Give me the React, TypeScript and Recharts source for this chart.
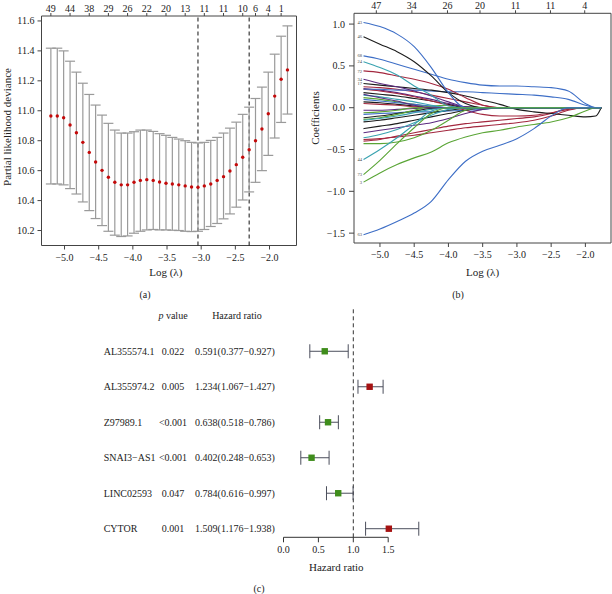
import React from "react";
import {
  ScatterChart, Scatter, LineChart, Line, XAxis, YAxis, ErrorBar,
  ReferenceLine, ReferenceArea, ReferenceDot,
} from "recharts";

const FONT = '"Liberation Serif", "DejaVu Serif", serif';
const AX = "#444";
const TXT = "#222";

// ---------- (a) cross-validated partial likelihood deviance ----------
const cvLogLambda = [
  -5.200, -5.106, -5.013, -4.919, -4.826, -4.732, -4.638, -4.545, -4.451, -4.358,
  -4.264, -4.170, -4.077, -3.983, -3.890, -3.796, -3.702, -3.609, -3.515, -3.422,
  -3.328, -3.234, -3.141, -3.047, -2.954, -2.860, -2.766, -2.673, -2.579, -2.486,
  -2.392, -2.298, -2.205, -2.111, -2.018, -1.924, -1.830, -1.737,
];
const cvMean = [
  10.965, 10.965, 10.953, 10.905, 10.853, 10.789, 10.722, 10.658, 10.602, 10.556,
  10.522, 10.505, 10.505, 10.522, 10.535, 10.540, 10.535, 10.524, 10.516, 10.511,
  10.505, 10.498, 10.491, 10.489, 10.498, 10.511, 10.535, 10.560, 10.598, 10.640,
  10.689, 10.740, 10.800, 10.878, 10.980, 11.098, 11.211, 11.273,
];
const cvUpper = [
  11.418, 11.418, 11.400, 11.331, 11.258, 11.184, 11.109, 11.038, 10.971, 10.916,
  10.871, 10.851, 10.851, 10.860, 10.871, 10.871, 10.862, 10.847, 10.836, 10.822,
  10.811, 10.800, 10.789, 10.785, 10.789, 10.802, 10.822, 10.851, 10.884, 10.924,
  10.976, 11.024, 11.082, 11.158, 11.258, 11.378, 11.498, 11.567,
];
const cvLower = [
  10.511, 10.511, 10.505, 10.480, 10.444, 10.391, 10.333, 10.280, 10.233, 10.195,
  10.169, 10.160, 10.164, 10.182, 10.195, 10.204, 10.207, 10.204, 10.204, 10.202,
  10.200, 10.195, 10.193, 10.195, 10.207, 10.227, 10.247, 10.278, 10.311, 10.356,
  10.404, 10.458, 10.522, 10.600, 10.702, 10.818, 10.922, 10.978,
];
const cvTopTicks = [-5.200, -4.919, -4.638, -4.358, -4.077, -3.796, -3.515, -3.234, -2.954, -2.673, -2.392, -2.205, -2.018, -1.830];
const cvTopLabels = ["49", "44", "38", "29", "26", "22", "20", "13", "11", "11", "10", "6", "4", "1"];
const cvYTicks = [10.2, 10.4, 10.6, 10.8, 11.0, 11.2, 11.4, 11.6];
const lambdaMin = -3.047;
const lambda1se = -2.298;
const logTicks = [-5, -4.5, -4, -3.5, -3, -2.5, -2];

// ---------- (b) coefficient paths ----------
const lambdaGrid = [-5.24, -5.0, -4.75, -4.5, -4.25, -4.0, -3.75, -3.5, -3.25, -3.0, -2.75, -2.5, -2.25, -2.0, -1.85, -1.77];
const p43 = [1.02, 0.97, 0.88, 0.73, 0.48, 0.18, 0, 0, 0, 0, 0, 0, 0, 0, 0, 0];
const p46 = [0.85, 0.76, 0.67, 0.55, 0.38, 0.18, 0.05, 0, 0, 0, 0, 0, 0, 0, 0, 0];
const p68 = [0.62, 0.58, 0.52, 0.46, 0.40, 0.34, 0.30, 0.27, 0.26, 0.26, 0.25, 0.24, 0.20, 0.05, 0, 0];
const p24 = [0.55, 0.48, 0.39, 0.26, 0.15, 0.02, 0, 0, 0, 0, 0, 0, 0, 0, 0, 0];
const p72 = [0.44, 0.42, 0.38, 0.34, 0.29, 0.22, 0.12, 0.03, 0, 0, 0, 0, 0, 0, 0, 0];
const p34 = [0.34, 0.29, 0.25, 0.20, 0.14, 0.07, 0.01, 0, 0, 0, 0, 0, 0, 0, 0, 0];
const p17 = [0.29, 0.27, 0.25, 0.23, 0.21, 0.18, 0.14, 0.09, 0.04, -0.02, -0.05, -0.07, -0.09, -0.11, -0.10, 0];
const pB2 = [0.22, 0.22, 0.21, 0.21, 0.20, 0.19, 0.19, 0.18, 0.17, 0.16, 0.15, 0.13, 0.10, 0.03, 0, 0];
const pR1 = [0.25, 0.24, 0.22, 0.19, 0.15, 0.11, 0.07, 0.03, 0, 0, 0, 0, 0, 0, 0, 0];
const pP1 = [0.23, 0.21, 0.18, 0.14, 0.10, 0.05, 0.01, 0, 0, 0, 0, 0, 0, 0, 0, 0];
const pR2 = [0.22, 0.20, 0.17, 0.13, 0.08, 0.03, -0.03, -0.08, -0.10, -0.10, -0.09, -0.06, -0.02, 0, 0, 0];
const pK1 = [0.18, 0.16, 0.14, 0.11, 0.08, 0.04, 0, 0, 0, 0, 0, 0, 0, 0, 0, 0];
const pP2 = [0.16, 0.12, 0.08, 0.03, 0, 0, 0, 0, 0, 0, 0, 0, 0, 0, 0, 0];
const pT1 = [0.15, 0.13, 0.10, 0.07, 0.03, 0, 0, 0, 0, 0, 0, 0, 0, 0, 0, 0];
const pG1 = [0.12, 0.10, 0.07, 0.04, 0.01, 0, 0, 0, 0, 0, 0, 0, 0, 0, 0, 0];
const pB3 = [0.10, 0.08, 0.06, 0.04, 0.02, 0, 0, 0, 0, 0, 0, 0, 0, 0, 0, 0];
const pK2 = [0.07, 0.06, 0.04, 0.02, 0, 0, 0, 0, 0, 0, 0, 0, 0, 0, 0, 0];
const pR3 = [0.05, 0.04, 0.03, 0.01, 0, 0, 0, 0, 0, 0, 0, 0, 0, 0, 0, 0];
const pP3 = [-0.03, -0.03, -0.02, -0.01, 0, 0, 0, 0, 0, 0, 0, 0, 0, 0, 0, 0];
const pG2 = [-0.06, -0.05, -0.03, 0, 0, 0, 0, 0, 0, 0, 0, 0, 0, 0, 0, 0];
const pB4 = [-0.08, -0.07, -0.06, -0.05, -0.05, -0.04, -0.03, -0.02, 0, 0, 0, 0, 0, 0, 0, 0];
const pK3 = [-0.12, -0.10, -0.07, -0.04, -0.01, 0, 0, 0, 0, 0, 0, 0, 0, 0, 0, 0];
const pG3 = [-0.14, -0.12, -0.08, -0.03, 0.02, 0.03, 0.01, 0, 0, 0, 0, 0, 0, 0, 0, 0];
const pT2 = [-0.15, -0.13, -0.10, -0.06, -0.02, 0, 0, 0, 0, 0, 0, 0, 0, 0, 0, 0];
const pK4 = [-0.17, -0.15, -0.12, -0.09, -0.06, -0.03, -0.01, 0, 0, 0, 0, 0, 0, 0, 0, 0];
const pK5 = [-0.25, -0.22, -0.19, -0.15, -0.11, -0.07, -0.03, 0, 0, 0, 0, 0, 0, 0, 0, 0];
const pP4 = [-0.30, -0.27, -0.24, -0.21, -0.18, -0.13, -0.07, -0.02, 0, 0, 0, 0, 0, 0, 0, 0];
const pT3 = [-0.36, -0.32, -0.26, -0.18, -0.09, -0.02, 0, 0, 0, 0, 0, 0, 0, 0, 0, 0];
const pRA = [-0.38, -0.37, -0.35, -0.33, -0.30, -0.27, -0.24, -0.22, -0.20, -0.18, -0.15, -0.10, -0.03, 0, 0, 0];
const pRB = [-0.40, -0.38, -0.34, -0.30, -0.26, -0.22, -0.19, -0.17, -0.15, -0.13, -0.11, -0.07, -0.01, 0, 0, 0];
const pG4 = [-0.43, -0.43, -0.41, -0.36, -0.27, -0.15, -0.03, 0, 0, 0, 0, 0, 0, 0, 0, 0];
const p44 = [-0.62, -0.50, -0.36, -0.20, -0.04, 0, 0, 0, 0, 0, 0, 0, 0, 0, 0, 0];
const p73 = [-0.80, -0.63, -0.43, -0.24, -0.07, 0, 0, 0, 0, 0, 0, 0, 0, 0, 0, 0];
const p3 = [-0.89, -0.78, -0.68, -0.60, -0.53, -0.42, -0.35, -0.30, -0.27, -0.23, -0.20, -0.17, -0.12, -0.04, 0, 0];
const p63 = [-1.52, -1.45, -1.36, -1.26, -1.12, -0.86, -0.64, -0.52, -0.45, -0.37, -0.25, -0.10, 0, 0, 0, 0];
const pathTopTicks = [-5.053, -4.534, -4.014, -3.539, -3.02, -2.51, -2.01];
const pathTopLabels = ["47", "34", "26", "20", "11", "11", "4"];
const pathYTicks = [-1.5, -1.0, -0.5, 0, 0.5, 1.0];

const BLUE = "#3d6ec6";
const BLACK = "#1c1c1c";
const TEAL = "#3aa3b0";
const RED = "#a3283f";
const PURPLE = "#5c2a80";
const GREEN = "#5aa536";

const coefPaths = [
  { key: "pK2", values: pK2, color: BLACK, name: "" },
  { key: "pR3", values: pR3, color: RED, name: "" },
  { key: "pP3", values: pP3, color: PURPLE, name: "" },
  { key: "pG2", values: pG2, color: GREEN, name: "" },
  { key: "pB4", values: pB4, color: BLUE, name: "" },
  { key: "pK3", values: pK3, color: BLACK, name: "" },
  { key: "pG3", values: pG3, color: GREEN, name: "" },
  { key: "pT2", values: pT2, color: TEAL, name: "" },
  { key: "pK4", values: pK4, color: BLACK, name: "" },
  { key: "pG1", values: pG1, color: GREEN, name: "" },
  { key: "pB3", values: pB3, color: BLUE, name: "" },
  { key: "pT1", values: pT1, color: TEAL, name: "" },
  { key: "pP2", values: pP2, color: PURPLE, name: "" },
  { key: "pK1", values: pK1, color: BLACK, name: "" },
  { key: "pP1", values: pP1, color: PURPLE, name: "" },
  { key: "pR1", values: pR1, color: RED, name: "" },
  { key: "pR2", values: pR2, color: RED, name: "" },
  { key: "pK5", values: pK5, color: BLACK, name: "" },
  { key: "pP4", values: pP4, color: PURPLE, name: "" },
  { key: "pT3", values: pT3, color: TEAL, name: "" },
  { key: "pRA", values: pRA, color: RED, name: "" },
  { key: "pRB", values: pRB, color: RED, name: "" },
  { key: "pG4", values: pG4, color: GREEN, name: "" },
  { key: "pB2", values: pB2, color: BLUE, name: "" },
  { key: "p17", values: p17, color: BLACK, name: "17" },
  { key: "p34", values: p34, color: PURPLE, name: "34" },
  { key: "p72", values: p72, color: RED, name: "72" },
  { key: "p24", values: p24, color: TEAL, name: "24" },
  { key: "p68", values: p68, color: BLUE, name: "68" },
  { key: "p46", values: p46, color: BLACK, name: "46" },
  { key: "p43", values: p43, color: BLUE, name: "43" },
  { key: "p44", values: p44, color: TEAL, name: "44" },
  { key: "p73", values: p73, color: GREEN, name: "73" },
  { key: "p3", values: p3, color: GREEN, name: "3" },
  { key: "p63", values: p63, color: BLUE, name: "63" },
];

// ---------- (c) forest plot ----------
const genes = ["AL355574.1", "AL355974.2", "Z97989.1", "SNAI3\u2212AS1", "LINC02593", "CYTOR"];
const pValues = ["0.022", "0.005", "<0.001", "<0.001", "0.047", "0.001"];
const hazard = [0.591, 1.234, 0.638, 0.402, 0.784, 1.509];
const hrLow = [0.377, 1.067, 0.518, 0.248, 0.616, 1.176];
const hrHigh = [0.927, 1.427, 0.786, 0.653, 0.997, 1.938];
const hrTicks = [0, 0.5, 1.0, 1.5];

const fmtNeg = (v: number) => (v < 0 ? "\u2212" : "") + Math.abs(v).toFixed(1);
const tickStyle = { fill: TXT, fontSize: 10 };

function CvPanel() {
  const rows = cvLogLambda.map((x, i) => ({
    x, y: cvMean[i], err: [cvMean[i] - cvLower[i], cvUpper[i] - cvMean[i]],
  }));
  const xd: [number, number] = [-5.337, -1.605];
  const yd: [number, number] = [10.1, 11.633];
  const tickLen = 0.02; // ~3px in data units
  return (
    <ScatterChart width={300} height={270} margin={{ top: 16, right: 3.5, bottom: 0, left: 5.5 }}>
      <XAxis type="number" dataKey="x" domain={xd} allowDataOverflow ticks={logTicks} interval={0}
        tickFormatter={fmtNeg} axisLine={false} tickLine={{ stroke: AX }} tickSize={4} tickMargin={4}
        height={24.5} tick={tickStyle} />
      <YAxis type="number" dataKey="y" domain={yd} allowDataOverflow ticks={cvYTicks} interval={0}
        tickFormatter={(v: number) => v.toFixed(1)} axisLine={false} tickLine={{ stroke: AX }}
        tickSize={4} tickMargin={3} width={36} tick={tickStyle} />
      <ReferenceArea x1={xd[0]} x2={xd[1]} y1={yd[0]} y2={yd[1]} fill="none" stroke={AX} strokeWidth={1} />
      {cvTopTicks.map((t, i) => (
        <ReferenceLine key={"tt" + i} segment={[{ x: t, y: yd[1] }, { x: t, y: yd[1] + tickLen }]}
          stroke={AX} ifOverflow="visible" />
      ))}
      {cvTopTicks.map((t, i) => (
        <ReferenceDot key={"tl" + i} x={t} y={yd[1]} r={0.01} fill="none" stroke="none" ifOverflow="visible"
          label={{ value: cvTopLabels[i], position: "top", offset: 4.3, fontSize: 10, fill: TXT }} />
      ))}
      <ReferenceLine x={lambdaMin} stroke="#111" strokeDasharray="4 3" />
      <ReferenceLine x={lambda1se} stroke="#111" strokeDasharray="4 3" />
      <Scatter data={rows} isAnimationActive={false}
        shape={(p: any) => <circle cx={p.cx} cy={p.cy} r={1.7} fill="#c40a0a" />}>
        <ErrorBar dataKey="err" direction="y" width={5} stroke="#9a9a9a" strokeWidth={1.2} />
      </Scatter>
    </ScatterChart>
  );
}

function PathPanel() {
  const rows = lambdaGrid.map((x, i) => {
    const r: any = { x };
    coefPaths.forEach((p) => { r[p.key] = p.values[i]; });
    return r;
  });
  const xd: [number, number] = [-5.379, -1.626];
  const yd: [number, number] = [-1.618, 1.129];
  const tickLen = 0.036;
  return (
    <LineChart width={312} height={270} data={rows} margin={{ top: 13.3, right: 1, bottom: 0, left: 4 }}>
      <XAxis type="number" dataKey="x" domain={xd} allowDataOverflow ticks={logTicks} interval={0}
        tickFormatter={fmtNeg} axisLine={false} tickLine={{ stroke: AX }} tickSize={4} tickMargin={4}
        height={27} tick={tickStyle} />
      <YAxis type="number" domain={yd} allowDataOverflow ticks={pathYTicks} interval={0}
        tickFormatter={fmtNeg} axisLine={false} tickLine={{ stroke: AX }} tickSize={5} tickMargin={4}
        width={50} tick={tickStyle} />
      <ReferenceArea x1={xd[0]} x2={xd[1]} y1={yd[0]} y2={yd[1]} fill="none" stroke={AX} strokeWidth={1} />
      {pathTopTicks.map((t, i) => (
        <ReferenceLine key={"tt" + i} segment={[{ x: t, y: yd[1] }, { x: t, y: yd[1] + tickLen }]}
          stroke={AX} ifOverflow="visible" />
      ))}
      {pathTopTicks.map((t, i) => (
        <ReferenceDot key={"tl" + i} x={t} y={yd[1]} r={0.01} fill="none" stroke="none" ifOverflow="visible"
          label={{ value: pathTopLabels[i], position: "top", offset: 4.8, fontSize: 10, fill: TXT }} />
      ))}
      {coefPaths.map((p) => (
        <Line key={p.key} dataKey={p.key} type="monotone" stroke={p.color} strokeWidth={1.1}
          dot={false} activeDot={false} isAnimationActive={false} />
      ))}
      {coefPaths.filter((p) => p.name).map((p) => (
        <ReferenceDot key={"l" + p.key} x={lambdaGrid[0]} y={p.values[0]} r={0.01} fill="none" stroke="none"
          ifOverflow="visible"
          label={{ value: p.name, position: "left", offset: 1.5, fontSize: 4.5, fill: "#444" }} />
      ))}
    </LineChart>
  );
}

function ForestTick(props: any) {
  const { y, payload } = props;
  const v = payload.value;
  if (v === 7) {
    return (
      <g fontSize={10} fill={TXT}>
        <text x={173} y={y + 3.5} textAnchor="middle" fill={TXT}>
          <tspan fontStyle="italic">p</tspan> value
        </text>
        <text x={237} y={y + 3.5} textAnchor="middle" fill={TXT}>Hazard ratio</text>
      </g>
    );
  }
  const i = 6 - v;
  return (
    <g>
      <text x={103.7} y={y + 3.5} fontSize={10} fill={TXT}>{genes[i]}</text>
      <text x={173} y={y + 3.5} fontSize={10} fill={TXT} textAnchor="middle">{pValues[i]}</text>
      <text x={235} y={y + 3.5} fontSize={10} fill={TXT} textAnchor="middle">
        {`${hazard[i].toFixed(3)}(${hrLow[i].toFixed(3)}\u2212${hrHigh[i].toFixed(3)})`}
      </text>
    </g>
  );
}

function ForestPanel() {
  const rows = genes.map((g, i) => ({
    gene: g, hr: hazard[i], row: 6 - i, err: [hazard[i] - hrLow[i], hrHigh[i] - hazard[i]],
  }));
  const yd: [number, number] = [0.758, 7.256];
  return (
    <ScatterChart width={612} height={294} margin={{ top: 6.7, right: 188.9, bottom: 26.7, left: 0 }}>
      <XAxis type="number" dataKey="hr" domain={[0, 2]} allowDataOverflow ticks={hrTicks} interval={0}
        tickFormatter={(v: number) => v.toFixed(1)} axisLine={false} tickLine={{ stroke: "#333" }}
        tickSize={5} tickMargin={4} height={30} tick={tickStyle} />
      <YAxis type="number" dataKey="row" domain={yd} allowDataOverflow ticks={[1, 2, 3, 4, 5, 6, 7]}
        interval={0} axisLine={false} tickLine={false} width={283.5} tick={<ForestTick />} />
      <ReferenceLine segment={[{ x: 0, y: yd[0] }, { x: 1.5, y: yd[0] }]} stroke="#333" ifOverflow="visible" />
      <ReferenceLine x={1} stroke="#333" strokeDasharray="4 3" />
      <Scatter data={rows} isAnimationActive={false}
        shape={(p: any) => (
          <rect x={p.cx - 3.2} y={p.cy - 3.2} width={6.4} height={6.4}
            fill={p.payload.hr > 1 ? "#a51212" : "#3f8d1c"} />
        )}>
        <ErrorBar dataKey="err" direction="x" width={7} stroke="#4b4e5c" strokeWidth={1} />
      </Scatter>
    </ScatterChart>
  );
}

const label = (text: React.ReactNode, x: number, y: number, size = 11, rotate = false) => (
  <div style={{
    position: "absolute", left: x, top: y, fontSize: size, lineHeight: 1, color: TXT, whiteSpace: "nowrap",
    transform: `translate(-50%, -50%)${rotate ? " rotate(-90deg)" : ""}`,
  }}>{text}</div>
);

export default function App() {
  return (
    <div style={{ position: "absolute", left: 0, top: 0, width: 612, height: 594, background: "#fff", fontFamily: FONT, overflow: "hidden" }}>
      <div style={{ position: "absolute", left: 0, top: 0 }}><CvPanel /></div>
      <div style={{ position: "absolute", left: 300, top: 0 }}><PathPanel /></div>
      <div style={{ position: "absolute", left: 0, top: 300 }}><ForestPanel /></div>
      {label("Partial likelihood deviance", 7, 126.5, 11, true)}
      {label("Log (\u03bb)", 165.8, 271.5)}
      {label("(a)", 145, 294.5, 10)}
      {label("Coefficients", 315, 118, 11, true)}
      {label("Log (\u03bb)", 482.5, 271.5)}
      {label("(b)", 458, 294.5, 10)}
      {label("Hazard ratio", 336.3, 567)}
      {label("(c)", 259, 588.5, 10)}
    </div>
  );
}
